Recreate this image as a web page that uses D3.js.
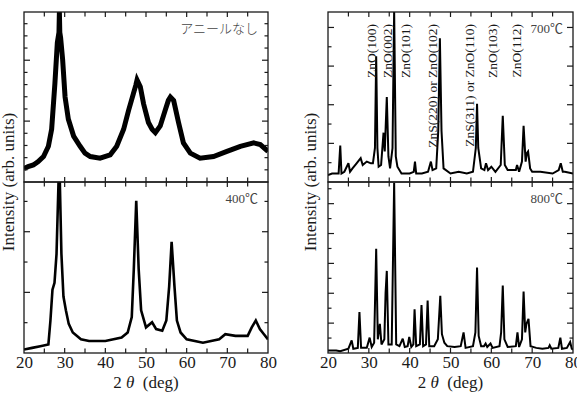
<!DOCTYPE html>
<html><head><meta charset="utf-8">
<script src="https://cdn.jsdelivr.net/npm/d3@7"></script>
<style>
html,body{margin:0;padding:0;background:#fff;}
svg{display:block;}
text{font-family:"Liberation Serif","Times New Roman",serif;}
</style></head>
<body>
<svg id="chart" width="577" height="401"></svg>
<script>
// ---------- DATA (2θ in deg, intensity in arbitrary units 0-100 of panel) ----------
const xTickValues = [20, 30, 40, 50, 60, 70, 80];
const panelNames = ["アニールなし", "400℃", "700℃", "800℃"];
const peakLabels = ["ZnO(100)", "ZnO(002)", "ZnO(101)", "ZnS(220) or ZnO(102)", "ZnS(311) or ZnO(110)", "ZnO(103)", "ZnO(112)"];
const peakLabelAt = [30.6, 34.6, 38.8, 45.6, 54.5, 60.3, 66.2];

const asDeposited = [[20,8],[21,9],[22.3,10],[23.5,12],[24.8,15],[26,21],[26.8,31],[27.6,58],[28.2,82],[28.6,88],[28.7,100],[28.8,88],[29.0,85],[29.5,72],[30.1,50],[30.9,37],[32.2,27],[33.8,21],[35,17],[36.3,15],[38.7,14],[41.2,16],[42.8,21],[44.5,31],[45.7,42],[46.9,52],[47.5,57],[47.8,60],[48.6,56],[49.4,46],[50.6,35],[51.5,31],[52.3,29],[53.5,33],[54.7,42],[55.5,48],[56.0,50],[56.8,48],[58.0,35],[59.2,23],[60.9,17],[63.3,14],[66.6,15],[69.9,18],[73.2,21],[76.5,23],[78.1,22],[80,18]];

const anneal400 = [[20,2],[22,3],[24,4],[26,5],[26.5,19],[27,37],[27.5,41],[28,58],[28.5,101],[28.8,101],[29.2,58],[29.7,33],[30.3,25],[31,17],[32,12],[34,8],[36,7],[40,7],[44,9],[45.5,12],[46.5,21],[47,49],[47.6,89],[48.2,49],[48.8,25],[50,15],[51.5,18],[52.5,14],[54,13],[55,19],[55.7,39],[56.3,65],[57,39],[57.6,19],[58.5,12],[60,8],[64,6],[68,8],[69.5,11],[72,10],[75,10],[76,15],[77,19],[78,14],[79,11],[80,8]];

const anneal700 = [[20,4],[21,5],[22.6,5],[23.0,21.5],[23.3,5],[24,6],[25,11],[25.4,6],[26,8],[27,11],[28,14],[28.5,10],[29.5,12],[30.5,11],[31,11],[31.5,20],[31.8,74],[32.1,20],[32.4,9],[33,10],[33.6,29],[33.9,18],[34.4,50],[34.8,15],[35.2,8],[35.8,20],[36.2,101],[36.6,15],[37,9],[38,5],[40,5],[41,6],[41.3,12],[41.6,5],[43,5],[44.5,6],[45.2,12],[45.6,7],[46.5,8],[47,30],[47.4,84.5],[47.8,30],[48.3,8],[50,5],[52,6],[54,5],[55.5,6],[56.2,20],[56.5,46],[56.8,20],[57.5,8],[58.3,7],[58.7,11],[59.2,7],[60,9],[61,6],[62.3,10],[62.8,39],[63.3,10],[64,7],[66,7],[66.3,10],[66.8,6],[67.5,12],[67.9,33],[68.4,12],[68.7,17],[69.0,18],[69.5,8],[70,6],[72,6],[75,5],[76.5,7],[77,11],[77.5,6],[78,6],[80,5]];

const anneal800 = [[20,1.5],[22,1.5],[23,1],[25,2.5],[25.8,7.4],[26.2,2.5],[27.3,3],[27.7,24],[28.1,3],[29.5,3],[30.2,9],[30.7,3.5],[31.3,6],[31.8,61],[32.2,8],[32.7,17],[33.1,5],[33.8,8],[34.1,35],[34.4,48],[34.8,5],[35.6,5],[36.2,99.5],[36.7,5],[37.5,4],[38.3,8.4],[38.8,3.5],[39.5,4],[39.9,9.4],[40.4,3.5],[40.9,5],[41.2,25.6],[41.6,4],[42.5,5],[42.9,28],[43.3,4],[44,5],[44.4,30.7],[44.8,4],[46,4],[46.9,8],[47.5,33.4],[47.9,11],[48.5,6],[49.2,4],[51,3.5],[52.5,4],[53.2,12],[53.7,3],[55.5,4],[56.1,12],[56.5,50],[56.9,10],[57.5,4],[58.2,4],[58.6,5.5],[59,3.5],[59.8,5.5],[60.3,3],[62,4],[62.4,12],[62.8,39.5],[63.2,8],[64,3.5],[66,4],[66.4,12],[66.8,3.5],[67.5,8],[67.9,36],[68.3,12],[68.6,17],[69.1,20],[69.6,4],[71,3],[72.5,2.5],[74,3],[74.3,4.5],[74.7,2.5],[76.4,3],[76.9,9],[77.3,2.5],[78.5,3],[79.3,6.4],[79.7,2.5],[80,2]];

// ---------- LAYOUT ----------
const svg = d3.select("#chart");
const cols = [{x0:24, x1:268}, {x0:328, x1:573}];
const rows = [{y0:12, y1:182}, {y0:182, y1:353}];
const panels = [
  {col:0,row:0,data:asDeposited,name:panelNames[0],sw:5, yTick:{n:13.96, major:5}, jp:true},
  {col:0,row:1,data:anneal400, name:panelNames[1],sw:2.6, yTick:{n:5.64, major:2}},
  {col:1,row:0,data:anneal700, name:panelNames[2],sw:2.0, yTick:{n:8.8, major:2}},
  {col:1,row:1,data:anneal800, name:panelNames[3],sw:2.0, yTick:{n:11.45, major:2}}
];
const ink = "#1a1a1a";

panels.forEach((p,i) => {
  const c = cols[p.col], r = rows[p.row];
  const x = d3.scaleLinear().domain([20,80]).range([c.x0, c.x1]);
  const y = d3.scaleLinear().domain([0,100]).range([r.y1, r.y0]);
  const g = svg.append("g");
  const clipId = "clip"+i;
  svg.append("clipPath").attr("id", clipId).append("rect")
    .attr("x", c.x0).attr("y", r.y0).attr("width", c.x1-c.x0).attr("height", r.y1-r.y0);

  // data line
  g.append("path").datum(p.data)
    .attr("clip-path", `url(#${clipId})`)
    .attr("fill","none").attr("stroke","#000").attr("stroke-width",p.sw)
    .attr("stroke-linejoin","miter").attr("stroke-miterlimit",3)
    .attr("d", d3.line().x(d=>x(d[0])).y(d=>y(d[1])));

  // x ticks (every 5 deg), top and bottom, inward
  const xt = d3.range(20, 80.01, 5);
  xt.forEach(v => {
    const len = (v % 10 === 0) ? 5 : 4.5;
    if (v > 20 && v < 80) {
      g.append("line").attr("x1",x(v)).attr("x2",x(v)).attr("y1",r.y1).attr("y2",r.y1-len)
        .attr("stroke",ink).attr("stroke-width",1.2);
      g.append("line").attr("x1",x(v)).attr("x2",x(v)).attr("y1",r.y0).attr("y2",r.y0+len)
        .attr("stroke",ink).attr("stroke-width",1.2);
    }
  });

  // y ticks, left and right, inward
  const step = 100 / p.yTick.n;
  for (let k = 1; k * step < 99.5; k++) {
    const yy = y(k*step);
    const len = (k % p.yTick.major === 0) ? 6 : 3.5;
    g.append("line").attr("x1",c.x0).attr("x2",c.x0+len).attr("y1",yy).attr("y2",yy)
      .attr("stroke",ink).attr("stroke-width",1.2);
    g.append("line").attr("x1",c.x1).attr("x2",c.x1-len).attr("y1",yy).attr("y2",yy)
      .attr("stroke",ink).attr("stroke-width",1.2);
  }

  // frame
  g.append("rect").attr("x",c.x0).attr("y",r.y0).attr("width",c.x1-c.x0).attr("height",r.y1-r.y0)
    .attr("fill","none").attr("stroke",ink).attr("stroke-width",1.3);

  // panel name
  g.append("text").attr("x", c.x1-10).attr("y", r.y0+21)
    .attr("text-anchor","end")
    .attr("font-size", 13)
    .attr("fill","#444")
    .style("font-family", p.jp ? "'Noto Sans CJK JP'" : "'Liberation Serif','Noto Sans CJK JP',serif")
    .style("font-weight", p.jp ? 300 : 400)
    .text(p.name);

  // bottom axis labels
  if (p.row === 1) {
    const ax = g.append("g").attr("transform", `translate(0,${r.y1})`)
      .call(d3.axisBottom(x).tickValues(xTickValues).tickSize(0).tickPadding(3).tickFormat(d3.format("d")));
    ax.select(".domain").remove();
    ax.selectAll("text").attr("font-size",17).attr("fill",ink)
      .style("font-family","'Liberation Serif',serif");
    const xl = g.append("text").attr("x",(c.x0+c.x1)/2).attr("y",388)
      .attr("text-anchor","middle").attr("font-size",17).attr("fill",ink);
    xl.append("tspan").text("2\u00a0");
    xl.append("tspan").attr("font-style","italic").text("θ");
    xl.append("tspan").text("\u00a0\u00a0(deg)");
  }
});

// y-axis titles
[8, 310].forEach(xp => {
  svg.append("text").attr("transform",`translate(${xp},182) rotate(-90)`)
    .attr("text-anchor","middle").attr("dy","0.35em")
    .attr("font-size",17).attr("fill",ink)
    .text("Intensity (arb. units)");
});

// peak labels on 700℃ panel
const xr = d3.scaleLinear().domain([20,80]).range([cols[1].x0, cols[1].x1]);
peakLabels.forEach((t,i) => {
  svg.append("text")
    .attr("transform", `translate(${xr(peakLabelAt[i])},24) rotate(-90)`)
    .attr("text-anchor","end").attr("dy","0.35em")
    .attr("font-size",13.5).attr("fill",ink)
    .text(t);
});
</script>
</body></html>
